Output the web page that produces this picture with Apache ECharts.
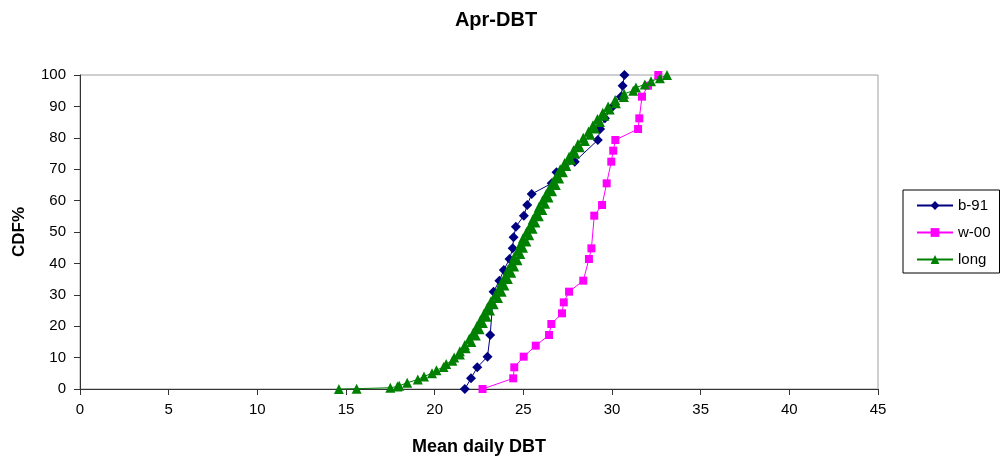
<!DOCTYPE html>
<html>
<head>
<meta charset="utf-8">
<script src="https://cdn.jsdelivr.net/npm/echarts@6/dist/echarts.min.js"></script>
<style>
  html, body { margin: 0; padding: 0; background: #fff; }
  #chart { width: 1003px; height: 461px; }
</style>
</head>
<body>
<div id="chart"></div>
<script>
// April mean daily dry-bulb temperature, cumulative distribution (%)
const b91Temp = [21.7, 22.05, 22.4, 22.98, 23.13, 23.32, 23.65, 23.9, 24.22, 24.4, 24.45, 24.58,
  25.03, 25.22, 25.47, 26.6, 26.87, 27.9, 29.2, 29.33, 29.6, 30.0, 30.5, 30.6, 30.7];
const b91Cdf = [0, 3.4, 6.9, 10.3, 17.2, 31.0, 34.5, 37.9, 41.4, 44.8, 48.3, 51.7,
  55.2, 58.6, 62.1, 65.5, 69.0, 72.4, 79.3, 82.8, 86.2, 89.7, 93.1, 96.6, 100];

const w00Temp = [22.7, 24.43, 24.49, 25.02, 25.7, 26.45, 26.58, 27.18, 27.28, 27.58, 28.38, 28.7,
  28.84, 29.0, 29.44, 29.7, 29.96, 30.07, 30.19, 31.47, 31.54, 31.69, 32.03, 32.61];
const w00Cdf = [0, 3.4, 6.9, 10.3, 13.8, 17.2, 20.7, 24.1, 27.6, 31.0, 34.5, 41.4,
  44.8, 55.2, 58.6, 65.5, 72.4, 75.9, 79.3, 82.8, 86.2, 93.1, 96.6, 100];

const longTemp = [14.6, 15.6, 17.5, 17.9,
  18.0, 18.45, 19.05, 19.4, 19.85, 20.1, 20.5, 20.65, 21.0, 21.1,
  21.42, 21.42, 21.75, 21.7, 22.07, 21.95, 22.32, 22.18, 22.53, 22.38,
  22.72, 22.58, 22.93, 22.78, 23.12, 22.98, 23.33, 23.18, 23.57, 23.42,
  23.78, 23.62, 23.93, 23.78, 24.13, 23.98, 24.32, 24.13, 24.48, 24.33,
  24.67, 24.48, 24.83, 24.68, 24.98, 24.83, 25.17, 24.98, 25.33, 25.18,
  25.52, 25.38, 25.68, 25.53, 25.87, 25.73, 26.07, 25.88, 26.23, 26.08,
  26.42, 26.28, 26.62, 26.48, 26.83, 26.68, 27.02, 26.88, 27.23, 27.08,
  27.42, 27.33, 27.68, 27.58, 27.92, 27.83, 28.18, 28.08, 28.47, 28.38,
  28.77, 28.68, 29.03, 28.93, 29.32, 29.18, 29.57, 29.48, 29.87, 29.78,
  30.22, 30.18, 30.67, 30.68, 31.2, 31.35, 31.85, 32.2, 32.7, 33.1];
const longCdf = [0, 0.1, 0.4, 0.8,
  1, 2, 3, 4, 5, 6, 7, 8, 9, 10,
  11, 12, 13, 14, 15, 16, 17, 18, 19, 20,
  21, 22, 23, 24, 25, 26, 27, 28, 29, 30,
  31, 32, 33, 34, 35, 36, 37, 38, 39, 40,
  41, 42, 43, 44, 45, 46, 47, 48, 49, 50,
  51, 52, 53, 54, 55, 56, 57, 58, 59, 60,
  61, 62, 63, 64, 65, 66, 67, 68, 69, 70,
  71, 72, 73, 74, 75, 76, 77, 78, 79, 80,
  81, 82, 83, 84, 85, 86, 87, 88, 89, 90,
  91, 92, 93, 94, 95, 96, 97, 98, 99, 100];

const pairs = (xs, ys) => xs.map((x, i) => [x, ys[i]]);

const FONT = 'Liberation Sans, Arial, sans-serif';
const AXIS_COLOR = '#333';

const chart = echarts.init(document.getElementById('chart'), null, { renderer: 'canvas' });
chart.setOption({
  backgroundColor: '#fff',
  animation: false,
  title: {
    text: 'Apr-DBT',
    left: 491,
    top: 5,
    textAlign: 'center',
    textStyle: { fontFamily: FONT, fontSize: 20, fontWeight: 'bold', color: '#000' }
  },
  grid: {
    left: 80, right: 125, top: 75, bottom: 71,
    show: true, borderColor: '#a0a0a0', borderWidth: 1, backgroundColor: '#fff'
  },
  legend: {
    orient: 'vertical',
    left: 903, top: 190,
    padding: [8, 9, 6, 13],
    itemWidth: 36, itemHeight: 11, itemGap: 12,
    borderColor: '#000', borderWidth: 1,
    textStyle: { fontFamily: FONT, fontSize: 15, color: '#000' },
    data: ['b-91', 'w-00', 'long']
  },
  xAxis: {
    type: 'value', min: 0, max: 45, interval: 5,
    name: 'Mean daily DBT', nameLocation: 'middle', nameGap: 49,
    nameTextStyle: { fontFamily: FONT, fontSize: 18, fontWeight: 'bold', color: '#000' },
    axisLine: { onZero: false, lineStyle: { color: AXIS_COLOR, width: 1 } },
    axisTick: { show: true, inside: false, length: 6, lineStyle: { color: AXIS_COLOR } },
    axisLabel: { margin: 13, fontFamily: FONT, fontSize: 15, color: '#000' },
    splitLine: { show: false }
  },
  yAxis: {
    type: 'value', min: 0, max: 100, interval: 10,
    name: 'CDF%', nameLocation: 'middle', nameGap: 52, nameRotate: 90,
    nameTextStyle: { fontFamily: FONT, fontSize: 17, fontWeight: 'bold', color: '#000' },
    axisLine: { show: true, lineStyle: { color: AXIS_COLOR, width: 1 } },
    axisTick: { show: true, inside: false, length: 6, lineStyle: { color: AXIS_COLOR } },
    axisLabel: { margin: 14, fontFamily: FONT, fontSize: 15, color: '#000' },
    splitLine: { show: false }
  },
  series: [
    {
      name: 'b-91', type: 'line', data: pairs(b91Temp, b91Cdf),
      symbol: 'diamond', symbolSize: 10, showAllSymbol: true,
      lineStyle: { color: '#000080', width: 1 },
      itemStyle: { color: '#000080' }
    },
    {
      name: 'w-00', type: 'line', data: pairs(w00Temp, w00Cdf),
      symbol: 'rect', symbolSize: 8, showAllSymbol: true,
      lineStyle: { color: '#ff00ff', width: 1 },
      itemStyle: { color: '#ff00ff' }
    },
    {
      name: 'long', type: 'line', data: pairs(longTemp, longCdf),
      symbol: 'triangle', symbolSize: 10, showAllSymbol: true,
      lineStyle: { color: '#008000', width: 1 },
      itemStyle: { color: '#008000' }
    }
  ]
});
</script>
</body>
</html>
